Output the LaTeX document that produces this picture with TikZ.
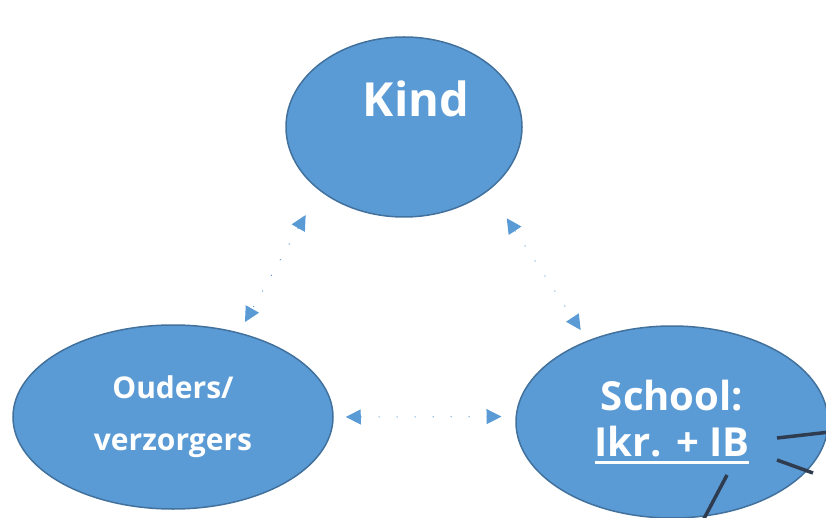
\documentclass[tikz,border=0pt]{standalone}
\usepackage{fontspec}
\setmainfont{Open Sans}
\usetikzlibrary{positioning}
\usetikzlibrary{shapes.geometric}
\usetikzlibrary{arrows.meta}
\definecolor{blobblue}{HTML}{5B9BD5}
\definecolor{blobedge}{HTML}{41719C}
\definecolor{darkline}{HTML}{2F3B4F}
\newsavebox{\ulsave}
\newcommand{\ulbox}[1]{\sbox{\ulsave}{#1}\rlap{\rule[-8pt]{\wd\ulsave}{3pt}}\usebox{\ulsave}}

\begin{document}
\begin{tikzpicture}
    [x=1pt, y=-1pt,
     blob/.style={draw=blobedge, line width=1.5pt, fill=blobblue, ellipse,
                  inner sep=0pt, text=white, align=center},
     link/.style={blobblue, line width=1pt, dash pattern=on 1pt off 17pt,
                  {Triangle[length=15pt,width=15pt]}-{Triangle[length=15pt,width=15pt]}},
     wire/.style={darkline, line width=3.5pt}]
    \useasboundingbox (0,0) rectangle (826,518);
    \clip (0,0) rectangle (826,518);

    \node (kind) [blob, minimum width=236pt, minimum height=180pt] at (404,127) {};
    \node (kindtext) [anchor=base, xshift=12pt, yshift=10pt, text=white,
                      font=\fontsize{47}{55}\selectfont\bfseries] at (kind.center) {Kind};
    \node (ouders) [blob, minimum width=320pt, minimum height=184pt,
                    below left=290pt and 231pt of kind.center, anchor=center,
                    font=\fontsize{30}{52}\selectfont\bfseries] {Ouders/\\verzorgers};
    \node (school) [blob, minimum width=312pt, minimum height=192pt,
                    below right=295pt and 268pt of kind.center, anchor=center,
                    font=\fontsize{40}{46}\selectfont\bfseries] {School:\\\ulbox{Ikr. + IB}};

    \draw[link, shorten <=28pt, shorten >=12pt] (kind.217) -- (ouders.52);
    \draw[link, shorten <=33pt, shorten >=12.5pt] (kind.323) -- (school.136.6);
    \draw[link, shorten <=12pt, shorten >=14pt] (ouders.east) -- (school.178);

    % lines leaving the picture
    \coordinate (ib1) at (777,438);
    \coordinate (ib2) at (777,460);
    \coordinate (ib3) at (727,475);
    \coordinate (out1) at (830,432);
    \coordinate (out2) at (813,473);
    \coordinate (out3) at (698,530);
    \draw[wire] (ib1) -- (out1);
    \draw[wire] (ib2) -- (out2);
    \draw[wire] (ib3) -- (out3);
\end{tikzpicture}
\end{document}
